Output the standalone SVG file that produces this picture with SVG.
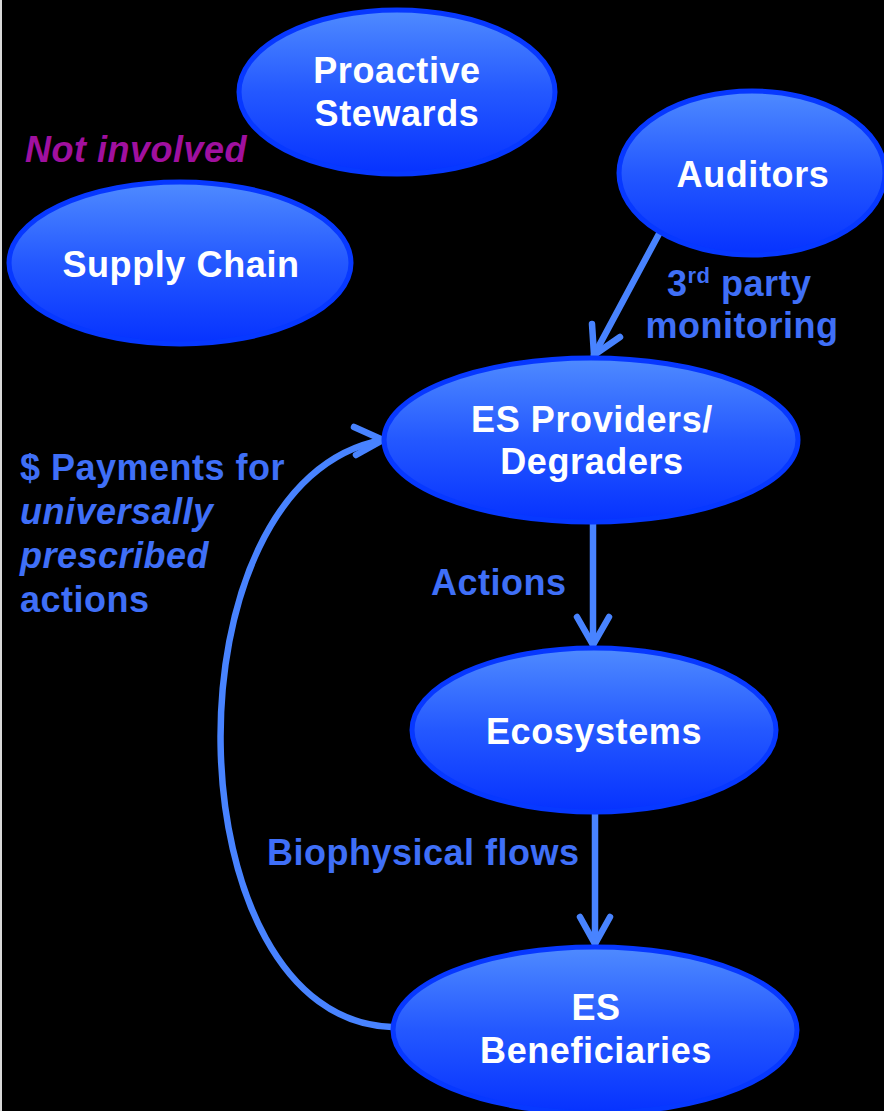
<svg xmlns="http://www.w3.org/2000/svg" width="884" height="1111" viewBox="0 0 884 1111">
<defs>
<linearGradient id="g" x1="0" y1="0" x2="0" y2="1">
<stop offset="0" stop-color="#4f8bff"/>
<stop offset="0.5" stop-color="#2458ff"/>
<stop offset="1" stop-color="#0632ff"/>
</linearGradient>
<style>
.node{fill:url(#g);stroke:#0738ff;stroke-width:5}
.nt{font-family:"Liberation Sans",Arial,sans-serif;font-weight:bold;font-size:36px;fill:#ffffff;text-anchor:middle;letter-spacing:0.6px}
.lb{font-family:"Liberation Sans",Arial,sans-serif;font-weight:bold;font-size:36px;fill:#3f6ff7;letter-spacing:0.5px}
.c{fill:none;stroke:#4883ff;stroke-width:6.5;stroke-linecap:round;stroke-linejoin:round}
</style>
</defs>
<rect x="0" y="0" width="884" height="1111" fill="#000000"/>
<rect x="0" y="0" width="2" height="1111" fill="#d8d8d8"/>

<g id="connectors">
<path class="c" d="M660 232 L594 355"/>
<path class="c" d="M592 324 L594 355 L620 337"/>
<path class="c" d="M593 523 L593 645"/>
<path class="c" d="M577 617 L593 645 L609 617"/>
<path class="c" d="M595 813 L595 944"/>
<path class="c" d="M580 917 L595 944 L610 917"/>
<path class="c" d="M392 1027 C170 1020 160 480 383 440"/>
<path class="c" d="M354 427 L383 440 L356 455"/>
</g>

<g id="proactive-stewards">
<ellipse class="node" cx="397" cy="92" rx="158" ry="82"/>
<text class="nt" x="397" y="83">Proactive</text>
<text class="nt" x="397" y="126">Stewards</text>
</g>

<g id="supply-chain">
<ellipse class="node" cx="180" cy="263" rx="171" ry="81"/>
<text class="nt" x="181" y="277">Supply Chain</text>
</g>

<g id="auditors">
<ellipse class="node" cx="752" cy="173" rx="133" ry="82"/>
<text class="nt" x="753" y="187">Auditors</text>
</g>

<g id="es-providers">
<ellipse class="node" cx="591" cy="440" rx="207" ry="82"/>
<text class="nt" x="592" y="432">ES Providers/</text>
<text class="nt" x="592" y="474">Degraders</text>
</g>

<g id="ecosystems">
<ellipse class="node" cx="594" cy="730" rx="182" ry="82"/>
<text class="nt" x="594" y="744">Ecosystems</text>
</g>

<g id="es-beneficiaries">
<ellipse class="node" cx="595" cy="1030" rx="202" ry="83"/>
<text class="nt" x="596" y="1020">ES</text>
<text class="nt" x="596" y="1063">Beneficiaries</text>
</g>

<g id="labels">
<text class="lb" x="25" y="162" style="fill:#a0109f;font-style:italic">Not involved</text>
<text class="lb" x="667" y="296">3<tspan font-size="22" dy="-13">rd</tspan><tspan dy="13"> party</tspan></text>
<text class="lb" x="742" y="338" text-anchor="middle">monitoring</text>
<text class="lb" x="20" y="480">$ Payments for</text>
<text class="lb" x="20" y="524" font-style="italic">universally</text>
<text class="lb" x="20" y="568" font-style="italic">prescribed</text>
<text class="lb" x="20" y="612">actions</text>
<text class="lb" x="431" y="595">Actions</text>
<text class="lb" x="267" y="865">Biophysical flows</text>
</g>
</svg>
